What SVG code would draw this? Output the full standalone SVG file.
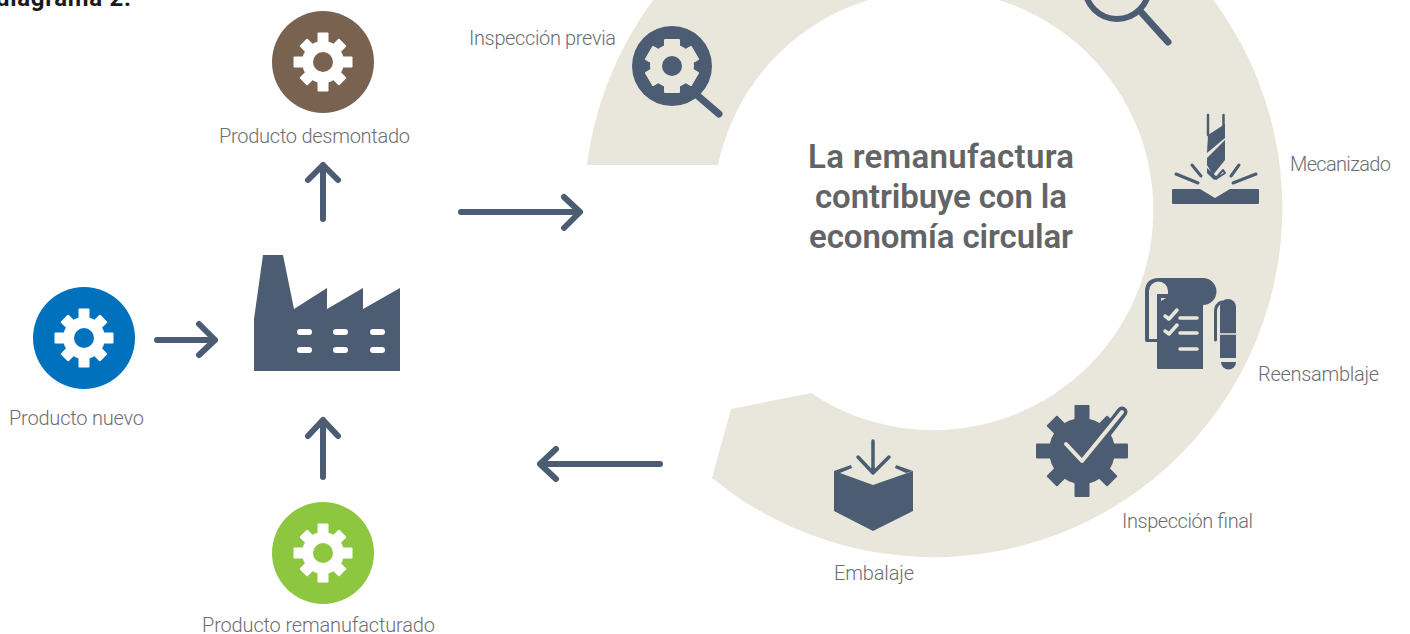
<svg xmlns="http://www.w3.org/2000/svg" width="1410" height="634" viewBox="0 0 1410 634">
<style>
text{font-family:Roboto,"Liberation Sans",sans-serif}
.lb{font-size:20px;font-weight:300;fill:#6d6e71}
.hd{font-size:33px;font-weight:600;fill:#636466}
.ar{fill:none;stroke:#4c5c72;stroke-width:6;stroke-linecap:round;stroke-linejoin:round}
.dk{fill:#4c5c72}
.ln{fill:none;stroke:#4c5c72;stroke-linecap:round;stroke-linejoin:round}
.bl{fill:none;stroke:#e9e7dc;stroke-linecap:round;stroke-linejoin:round}
</style>
<defs>
<g id="gear" fill="#fff">
<circle r="21"/>
<rect x="-5.5" y="-29.5" width="11" height="59" rx="1"/>
<rect x="-29.5" y="-5.5" width="59" height="11" rx="1"/>
<rect x="-5.5" y="-28" width="11" height="56" rx="1" transform="rotate(45)"/>
<rect x="-5.5" y="-28" width="11" height="56" rx="1" transform="rotate(-45)"/>
</g>
</defs>
<rect width="1410" height="634" fill="#fff"/>
<text x="-4" y="6" font-size="24" font-weight="700" fill="#1a1a1a" textLength="135">diagrama 2.</text>

<g id="ring">
<path d="M587 165A349 349 0 1 1 712 478L731 409L811 393A220 220 0 1 0 718 165Z" fill="#e9e7dc"/>
</g>

<g id="connectors">
<path class="ar" d="M323 219V165M308 180L323 165L338 180"/>
<path class="ar" d="M461 212H580M564 197L580 212L564 228"/>
<path class="ar" d="M660 464H540M556 449L540 464L556 479"/>
<path class="ar" d="M157 340H215M199 324L215 340L199 355"/>
<path class="ar" d="M323 477V420M308 436L323 420L338 436"/>
</g>

<g id="producto-desmontado">
<circle cx="323" cy="62" r="51" fill="#7a6250"/>
<use href="#gear" x="323" y="62"/>
<circle cx="323" cy="62" r="10" fill="#7a6250"/>
<text class="lb" x="219" y="143" textLength="191">Producto desmontado</text>
</g>
<g id="producto-nuevo">
<circle cx="84" cy="338" r="51" fill="#0071bc"/>
<use href="#gear" x="84" y="338"/>
<circle cx="84" cy="338" r="10" fill="#0071bc"/>
<text class="lb" x="9" y="425" textLength="135">Producto nuevo</text>
</g>
<g id="producto-remanufacturado">
<circle cx="323" cy="553" r="51" fill="#8dc63f"/>
<use href="#gear" x="323" y="553"/>
<circle cx="323" cy="553" r="10" fill="#8dc63f"/>
<text class="lb" x="202" y="632" textLength="233">Producto remanufacturado</text>
</g>
<g id="fabrica">
<path class="dk" d="M254 371V319L263 255H283L294 309L327 288V309L363 288V309L400 288V371Z"/>
<g fill="#fff">
<rect x="297" y="329" width="15" height="6" rx="3"/><rect x="333" y="329" width="15" height="6" rx="3"/><rect x="370" y="329" width="15" height="6" rx="3"/>
<rect x="297" y="347" width="15" height="6" rx="3"/><rect x="333" y="347" width="15" height="6" rx="3"/><rect x="370" y="347" width="15" height="6" rx="3"/>
</g>
</g>

<g id="inspeccion-previa">
<text class="lb" x="469" y="45" textLength="147">Inspección previa</text>
<path class="ln" stroke-width="7" d="M698 96L719 114"/>
<circle cx="672" cy="66" r="40" class="dk"/>
<g fill="#e9e7dc">
<circle cx="672" cy="66" r="22"/>
<rect x="664" y="39" width="16" height="54" rx="1"/>
<rect x="664" y="39" width="16" height="54" rx="1" transform="rotate(60 672 66)"/>
<rect x="664" y="39" width="16" height="54" rx="1" transform="rotate(-60 672 66)"/>
</g>
<circle cx="672" cy="66" r="10" class="dk"/>
</g>

<g id="inspeccion-superior">
<circle cx="1117" cy="-13" r="32" class="ln" stroke-width="6"/>
<path class="ln" stroke-width="7" d="M1141 12L1168 42"/>
</g>

<g id="mecanizado">
<text class="lb" x="1290" y="171" textLength="101">Mecanizado</text>
<path class="dk" d="M1172 190Q1172 189 1173 189H1200L1215 198L1230 189H1258Q1259 189 1259 190V203Q1259 204 1258 204H1173Q1172 204 1172 203Z"/>
<path class="ln" stroke-width="3" d="M1176 174L1198 183M1192 165L1201 176M1239 165L1231 176M1256 174L1233 183"/>
<path class="ln" stroke-width="2.500" d="M1208 115V135M1223.500 115V126"/>
<path class="dk" d="M1208 135L1225 124V138L1207 153Z"/>
<path class="dk" d="M1225 140V160L1213 175L1207 165V158Z"/>
<path class="dk" d="M1207 168L1217 177L1214 180L1207 173Z"/>
<path class="ln" stroke-width="2" d="M1216 178L1223 170L1225 173L1216 179Z"/>
</g>

<g id="reensamblaje">
<text class="lb" x="1258" y="381" textLength="121">Reensamblaje</text>
<path class="dk" d="M1145 339V292Q1145 278 1159 278H1203A13.500 13.500 0 0 1 1203 305V369H1158Q1157 369 1157 368V342H1146Q1145 342 1145 339Z"/>
<path fill="#e9e7dc" d="M1149 339V291A9.500 9.500 0 0 1 1168 291V294H1157V339Z"/>
<path fill="#e9e7dc" d="M1161 298H1166L1161 301Z"/>
<path class="bl" stroke-width="3.500" d="M1165 316L1169 319L1177 310M1165 331L1169 334L1177 325M1180 318H1197M1180 333H1197M1180 349H1197"/>
<path class="dk" d="M1220 358V307A8 8 0 0 1 1236 307V358Z"/>
<path class="dk" d="M1221 362H1236A7.500 7.500 0 0 1 1221 362Z"/>
<path class="bl" stroke-width="1.500" d="M1220 334H1236"/>
<path class="ln" stroke-width="3" d="M1215.500 340V312Q1215.500 304 1222 302"/>
</g>

<g id="inspeccion-final">
<text class="lb" x="1122" y="528" textLength="131">Inspección final</text>
<g class="dk">
<circle cx="1082" cy="451" r="33"/>
<rect x="1074.500" y="405" width="15" height="92" rx="1"/>
<rect x="1036" y="443.500" width="92" height="15" rx="1"/>
<rect x="1074.500" y="408" width="15" height="86" rx="1" transform="rotate(45 1082 451)"/>
<rect x="1074.500" y="408" width="15" height="86" rx="1" transform="rotate(-45 1082 451)"/>
</g>
<path d="M1096 446L1122 412" class="ln" stroke-width="11"/>
<path class="bl" stroke-width="4" d="M1066 444L1082 461L1122 412"/>
</g>

<g id="embalaje">
<text class="lb" x="834" y="580" textLength="80">Embalaje</text>
<path class="dk" d="M834 471L851 465L852 468L840 473L873 485L913 471V511L873 531L834 511Z"/>
<path class="dk" d="M913 471L896 465L895 468L906 473Z"/>
<path class="ln" stroke-width="3.500" d="M873 441V473M858 457L873 473L889 457"/>
</g>

<g id="titulo">
<text class="hd" x="808" y="168" textLength="266">La remanufactura</text>
<text class="hd" x="815" y="208" textLength="252">contribuye con la</text>
<text class="hd" x="809" y="248" textLength="264">economía circular</text>
</g>
</svg>
